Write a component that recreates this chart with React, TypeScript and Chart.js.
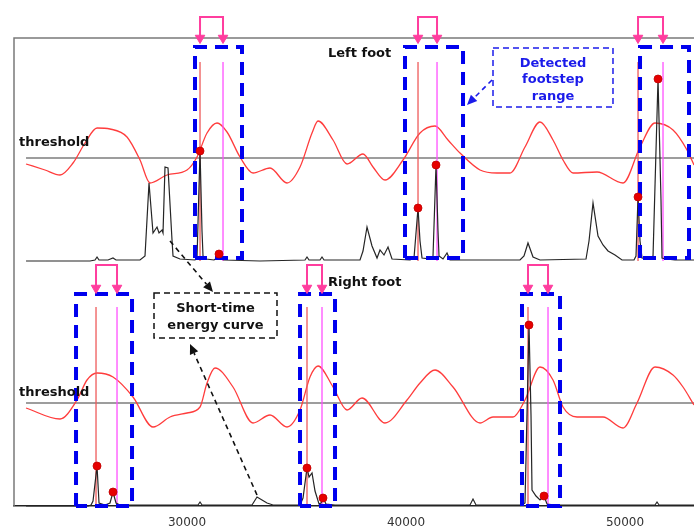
import { useEffect, useRef } from "react";
import { Chart, registerables } from "chart.js";

Chart.register(...registerables);

type P = [number, number];

// ---------------- axis ----------------
const X_MIN = 22100;
const X_MAX = 53150;
const X_TICKS = [30000, 40000, 50000];
const Y_MAX = 468;
const LEFT_BASE = 245; // baseline of the "Left foot" panel
const RIGHT_BASE = 0; // baseline of the "Right foot" panel
const THRESHOLD = 103;
const SIGNAL_START = 22649;

// ---------------- Left foot (top panel) ----------------
const LEFT_ENVELOPE: P[] = [
  [22649, 97], [23516, 91], [24201, 86], [24795, 98], [25343, 118], [25891, 133], [26484, 132],
  [27260, 124], [27854, 101], [28311, 78], [29087, 86], [30000, 91], [30457, 104], [30913, 128],
  [31370, 138], [31826, 129], [32420, 104], [33014, 88], [33790, 93], [34566, 78], [35160, 94],
  [35708, 128], [35982, 140], [36667, 121], [37306, 97], [38036, 107], [38493, 94], [39041, 81],
  [39863, 101], [40639, 128], [41324, 135], [41918, 121], [42466, 108], [43379, 91], [44155, 88],
  [44748, 88], [45433, 114], [46118, 139], [46712, 121], [47169, 101], [47625, 88], [48721, 89],
  [49909, 78], [50685, 114], [51370, 138], [52192, 131], [52831, 111], [53150, 96],
];

const LEFT_ENERGY: P[] = [
  [22649, 0], [25571, 0], [25799, 1], [25891, 4], [25982, 1], [26393, 1], [26621, 3], [26758, 1],
  [27854, 1], [28082, 5], [28265, 78], [28448, 28], [28630, 34], [28722, 28], [28858, 31], [28904, 28],
  [28995, 94], [29132, 93], [29315, 21], [29361, 5], [29680, 2], [30365, 1], [30457, 3], [30594, 110],
  [30685, 30], [30731, 5], [30868, 2], [31233, 1], [31370, 3], [31461, 7], [31553, 2], [31689, 1],
  [33333, 0], [35388, 1], [35479, 4], [35571, 1], [36073, 1], [36164, 4], [36256, 1], [37900, 1],
  [38036, 10], [38219, 34], [38447, 15], [38676, 3], [38813, 11], [38995, 6], [39178, 14], [39361, 2],
  [40183, 1], [40365, 3], [40548, 53], [40639, 20], [40731, 3], [41142, 2], [41233, 5], [41370, 96],
  [41461, 30], [41507, 5], [41689, 2], [41872, 8], [42009, 1], [45205, 1], [45388, 5], [45570, 18],
  [45799, 4], [46118, 1], [48219, 2], [48356, 20], [48539, 58], [48767, 25], [48995, 16], [49224, 10],
  [49543, 6], [49863, 1], [50411, 1], [50502, 5], [50594, 64], [50685, 20], [50776, 3], [51142, 2],
  [51279, 5], [51507, 182], [51644, 60], [51689, 3], [51872, 2], [52283, 1], [53150, 1],
];

const LEFT_ONSETS = [30594, 40548, 50594];
const LEFT_SECONDS = [31644, 41416, 51735];
const LEFT_RANGES: P[] = [[30365, 32511], [39954, 42603], [50685, 52922]];
const LEFT_DOTS: P[] = [[30594, 110], [31461, 7], [40548, 53], [41370, 96], [50594, 64], [51507, 182]];

// ---------------- Right foot (bottom panel) ----------------
const RIGHT_ENVELOPE: P[] = [
  [22649, 98], [24201, 87], [24977, 106], [25434, 126], [25891, 133], [26621, 129], [27534, 109],
  [28448, 79], [29224, 89], [30000, 93], [30594, 99], [30913, 123], [31278, 138], [32100, 119],
  [33014, 83], [33790, 91], [34566, 79], [35160, 96], [35616, 129], [35982, 140], [36667, 119],
  [37306, 96], [37991, 108], [39041, 83], [40046, 106], [40639, 123], [41324, 136], [42146, 119],
  [43379, 83], [43972, 89], [44885, 89], [45433, 106], [46118, 139], [46712, 126], [47169, 99],
  [47808, 89], [48995, 89], [49909, 78], [50548, 103], [51370, 139], [52192, 131], [52648, 119],
  [53150, 101],
];

const RIGHT_ENERGY: P[] = [
  [22649, 0], [25480, 0], [25617, 1], [25708, 5], [25891, 40], [25982, 3], [26256, 1], [26484, 3],
  [26621, 14], [26758, 3], [26941, 1], [30502, 1], [30594, 4], [30685, 1], [32968, 1], [33196, 9],
  [33425, 6], [33653, 3], [33927, 1], [35160, 1], [35297, 8], [35479, 38], [35571, 29], [35708, 33],
  [35845, 15], [36027, 2], [36119, 3], [36210, 8], [36347, 2], [36758, 1], [42922, 1], [43059, 7],
  [43196, 1], [45296, 1], [45433, 3], [45616, 181], [45708, 90], [45753, 16], [45936, 10], [46118, 6],
  [46301, 10], [46438, 2], [46803, 1], [50685, 1], [51370, 1], [51461, 4], [51553, 1], [53150, 1],
];

const RIGHT_ONSETS = [25845, 35479, 45570];
const RIGHT_SECONDS = [26804, 36164, 46484];
const RIGHT_RANGES: P[] = [[24932, 27489], [35160, 36758], [45296, 47032]];
const RIGHT_DOTS: P[] = [[25891, 40], [26621, 14], [35479, 38], [36210, 8], [45616, 181], [46301, 10]];

// ---------------- panel geometry (heights above each panel's baseline) ----------------
const LINE_TOP = 199;
const PANELS = [
  {
    base: LEFT_BASE, env: LEFT_ENVELOPE, energy: LEFT_ENERGY, onsets: LEFT_ONSETS, seconds: LEFT_SECONDS,
    ranges: LEFT_RANGES, dots: LEFT_DOTS, boxTop: 214, boxBottom: 3, tip: 218, bracketTop: 244,
  },
  {
    base: RIGHT_BASE, env: RIGHT_ENVELOPE, energy: RIGHT_ENERGY, onsets: RIGHT_ONSETS, seconds: RIGHT_SECONDS,
    ranges: RIGHT_RANGES, dots: RIGHT_DOTS, boxTop: 212, boxBottom: 0, tip: 213, bracketTop: 241,
  },
];

const LABEL_FONT = 'bold 13px "DejaVu Sans"';
const LABELS = [
  { text: "threshold", x: 22330, y: LEFT_BASE + 118 },
  { text: "threshold", x: 22330, y: RIGHT_BASE + 113 },
  { text: "Left foot", x: 36438, y: LEFT_BASE + 207 },
  { text: "Right foot", x: 36438, y: RIGHT_BASE + 223 },
];

const CALLOUTS = [
  {
    lines: ["Detected", "footstep", "range"], color: "#1b1bea",
    x0: 43972, x1: 49451, y0: LEFT_BASE + 154, y1: LEFT_BASE + 213, textX: 46712, textY: LEFT_BASE + 181, gap: 16.5,
    arrows: [[43927, LEFT_BASE + 181, 42785, LEFT_BASE + 156]],
  },
  {
    lines: ["Short-time", "energy curve"], color: "#111111",
    x0: 28493, x1: 34109, y0: RIGHT_BASE + 168, y1: RIGHT_BASE + 213, textX: 31301, textY: RIGHT_BASE + 188.5, gap: 17,
    arrows: [[29224, LEFT_BASE + 20, 31187, RIGHT_BASE + 214], [33196, RIGHT_BASE + 11, 30137, RIGHT_BASE + 162]],
  },
];

const PINK = "#ff3d9e";
const BLUE = "#0000ee";

function buildDatasets() {
  const ds: any[] = [];
  const line = (data: any[], extra: any) => ({
    data, pointRadius: 0, pointHoverRadius: 0, fill: false, tension: 0, clip: false, ...extra,
  });
  for (const p of PANELS) {
    const b = p.base;
    ds.push(line([{ x: SIGNAL_START, y: b + THRESHOLD }, { x: X_MAX, y: b + THRESHOLD }], {
      borderColor: "#3c3c3c", borderWidth: 1.2, order: 7,
    }));
    ds.push(line(p.env.map(([x, y]) => ({ x, y: b + y })), {
      borderColor: "#ff3c3c", borderWidth: 1.3, cubicInterpolationMode: "monotone", order: 6,
    }));
    p.onsets.forEach((x) => ds.push(line([{ x, y: b }, { x, y: b + LINE_TOP }], {
      borderColor: "#ee5a5a", borderWidth: 1.3, order: 5,
    })));
    p.seconds.forEach((x) => ds.push(line([{ x, y: b }, { x, y: b + LINE_TOP }], {
      borderColor: "#ff50ff", borderWidth: 1.3, order: 5,
    })));
    ds.push(line(p.energy.map(([x, y]) => ({ x, y: b + y })), {
      borderColor: "#252525", borderWidth: 1.2, order: 4,
    }));
    p.ranges.forEach(([x0, x1]) => ds.push(line([
      { x: x0, y: b + p.boxBottom }, { x: x0, y: b + p.boxTop }, { x: x1, y: b + p.boxTop },
      { x: x1, y: b + p.boxBottom }, { x: x0, y: b + p.boxBottom },
    ], { borderColor: BLUE, borderWidth: 4, borderDash: [13, 8], order: 3 })));
    p.onsets.forEach((x0, i) => {
      const x1 = p.seconds[i];
      const head = b + p.tip + 5;
      ds.push(line([
        { x: x0, y: head }, { x: x0, y: b + p.bracketTop }, { x: x1, y: b + p.bracketTop }, { x: x1, y: head },
      ], { borderColor: PINK, borderWidth: 2, order: 2 }));
      ds.push({
        data: [{ x: x0, y: head }, { x: x1, y: head }], showLine: false, clip: false,
        pointStyle: "triangle", rotation: 180, pointRadius: 5.5, pointHoverRadius: 5.5,
        pointBackgroundColor: PINK, pointBorderColor: PINK, pointBorderWidth: 1, order: 1,
      });
    });
    ds.push({
      data: p.dots.map(([x, y]) => ({ x, y: b + y })), showLine: false, clip: false,
      pointRadius: 4, pointHoverRadius: 4, pointBackgroundColor: "#e60000", pointBorderColor: "#c00000",
      pointBorderWidth: 0.8, order: 0,
    });
  }
  return ds;
}

function drawArrow(ctx: CanvasRenderingContext2D, x0: number, y0: number, x1: number, y1: number, color: string) {
  const ang = Math.atan2(y1 - y0, x1 - x0);
  const len = 10;
  const hw = 4.5;
  const bx = x1 - Math.cos(ang) * len;
  const by = y1 - Math.sin(ang) * len;
  ctx.save();
  ctx.strokeStyle = color;
  ctx.fillStyle = color;
  ctx.lineWidth = 1.6;
  ctx.setLineDash([5, 4]);
  ctx.beginPath();
  ctx.moveTo(x0, y0);
  ctx.lineTo(bx, by);
  ctx.stroke();
  ctx.setLineDash([]);
  ctx.beginPath();
  ctx.moveTo(x1, y1);
  ctx.lineTo(bx + Math.sin(ang) * hw, by - Math.cos(ang) * hw);
  ctx.lineTo(bx - Math.sin(ang) * hw, by + Math.cos(ang) * hw);
  ctx.closePath();
  ctx.fill();
  ctx.restore();
}

const overlayPlugin = {
  id: "overlay",
  beforeDatasetsDraw(chart: any) {
    const { ctx, chartArea } = chart;
    ctx.save();
    ctx.strokeStyle = "#7a7a7a";
    ctx.lineWidth = 1.5;
    ctx.beginPath();
    ctx.moveTo(chartArea.left, chartArea.bottom);
    ctx.lineTo(chartArea.left, chartArea.top);
    ctx.lineTo(chartArea.right + 2, chartArea.top);
    ctx.stroke();
    ctx.restore();
  },
  afterDatasetsDraw(chart: any) {
    const { ctx } = chart;
    const xs = chart.scales.x;
    const ys = chart.scales.y;
    const X = (v: number) => xs.getPixelForValue(v);
    const Y = (v: number) => ys.getPixelForValue(v);
    ctx.save();
    ctx.font = LABEL_FONT;
    ctx.fillStyle = "#111";
    ctx.textAlign = "left";
    ctx.textBaseline = "middle";
    for (const l of LABELS) ctx.fillText(l.text, X(l.x), Y(l.y));
    for (const c of CALLOUTS) {
      ctx.save();
      ctx.strokeStyle = c.color;
      ctx.lineWidth = 1.5;
      ctx.setLineDash([6, 4]);
      const left = X(c.x0), right = X(c.x1), top = Y(c.y1), bottom = Y(c.y0);
      ctx.strokeRect(left, top, right - left, bottom - top);
      ctx.restore();
      ctx.fillStyle = c.color;
      ctx.textAlign = "center";
      const n = c.lines.length;
      c.lines.forEach((t, i) => {
        ctx.fillText(t, X(c.textX), Y(c.textY) + (i - (n - 1) / 2) * c.gap);
      });
      for (const a of c.arrows) drawArrow(ctx, X(a[0]), Y(a[1]), X(a[2]), Y(a[3]), c.color);
    }
    ctx.restore();
  },
};

export default function App() {
  const ref = useRef<HTMLCanvasElement | null>(null);
  useEffect(() => {
    if (!ref.current) return;
    const chart = new Chart(ref.current, {
      type: "line",
      data: { datasets: buildDatasets() },
      options: {
        animation: false,
        responsive: false,
        devicePixelRatio: 1,
        events: [],
        layout: { autoPadding: false, padding: { left: 14, top: 38, right: 0, bottom: 0 } },
        plugins: { legend: { display: false }, tooltip: { enabled: false } },
        scales: {
          x: {
            type: "linear",
            min: X_MIN,
            max: X_MAX,
            grid: { display: false, drawTicks: false },
            border: { display: true, color: "#222", width: 1.6 },
            afterBuildTicks: (scale: any) => {
              scale.ticks = X_TICKS.map((v) => ({ value: v }));
            },
            afterFit: (scale: any) => {
              scale.height = 21;
            },
            ticks: {
              padding: 10,
              maxRotation: 0,
              autoSkip: false,
              color: "#333",
              font: { family: "DejaVu Sans", size: 12 },
              callback: (v: any) => String(v),
            },
          },
          y: { type: "linear", display: false, min: 0, max: Y_MAX },
        },
      } as any,
      plugins: [overlayPlugin],
    });
    return () => chart.destroy();
  }, []);
  return (
    <div style={{ position: "fixed", left: 0, top: 0, width: 694, height: 527, background: "#fff" }}>
      <canvas ref={ref} width={694} height={527} style={{ display: "block" }} />
    </div>
  );
}
